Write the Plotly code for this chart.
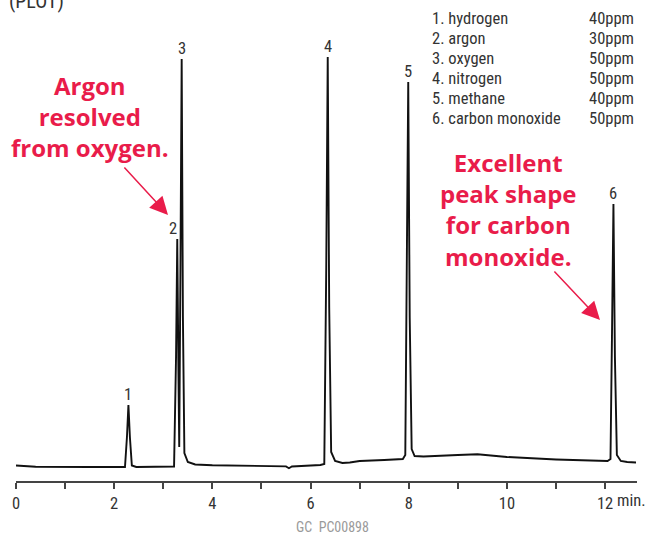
import plotly.graph_objects as go

# ---------------- data ----------------
signal_time = [0.00, 0.40, 1.50, 2.22, 2.26, 2.29, 2.32, 2.36, 2.45,
               3.22, 3.26, 3.285, 3.31, 3.325, 3.35, 3.375, 3.40, 3.43, 3.50, 3.65,
               4.00, 5.00, 5.50, 5.56, 5.62, 6.20, 6.28, 6.32, 6.35, 6.38, 6.42, 6.50,
               6.65, 6.80, 7.00, 7.50, 7.88, 7.93, 7.96, 7.99, 8.02, 8.06, 8.12,
               8.30, 9.00, 9.40, 10.00, 11.00, 12.05, 12.11, 12.14, 12.17, 12.20,
               12.24, 12.32, 12.45, 12.63]
signal_value = [1.5, 0.3, 0.0, 0.0, 30, 62, 30, 1.5, 0.0,
                0.5, 110, 228, 90, 20, 200, 408, 150, 14, 5, 2.5,
                1.8, 0.8, 0.6, -1.2, 0.5, 2.0, 3.0, 200, 410, 160, 15, 6,
                4.0, 4.5, 6.0, 7.0, 8.0, 12, 190, 385, 150, 18, 11,
                10.5, 12.0, 12.7, 10.0, 7.5, 6.0, 8.0, 130, 263, 110,
                12, 6.0, 5.0, 4.5]

peak_number = ["1", "2", "3", "4", "5", "6"]
peak_time = [2.29, 3.285, 3.375, 6.35, 7.99, 12.17]
peak_height = [62, 228, 408, 410, 385, 263]

compounds = ["1. hydrogen", "2. argon", "3. oxygen", "4. nitrogen",
             "5. methane", "6. carbon monoxide"]
concentrations = ["40ppm", "30ppm", "50ppm", "50ppm", "40ppm", "50ppm"]

tick_values = [0, 2, 4, 6, 8, 10, 12]
tick_labels = ["0", "2", "4", "6", "8", "10", "12"]

# ---------------- layout helpers ----------------
W, H = 650, 534
L, R, T, B = 16, 13, 40, 53
PW, PH = W - L - R, H - T - B


def paper(xp, yp):
    return (xp - L) / PW, (H - B - yp) / PH


NARROW = "Liberation Sans Narrow, Roboto Condensed, DejaVu Sans Condensed, Arial Narrow, sans-serif"
BOLD = "Open Sans, Lato, sans-serif"
RED = "#E91C4A"
DARK = "#333333"

fig = go.Figure()
fig.add_trace(go.Scatter(x=signal_time, y=signal_value, mode="lines",
                         line=dict(color="#111111", width=1.9),
                         hoverinfo="skip", showlegend=False))

ann = []
# peak numbers
for lab, t, h in zip(peak_number, peak_time, peak_height):
    ann.append(dict(x=t, y=h, xref="x", yref="y", text=lab, showarrow=False,
                    yanchor="middle", yshift=11, xshift=(-4 if lab == "2" else 0),
                    font=dict(family=NARROW, size=16.5, color=DARK)))

# compound table
for i, (c, v) in enumerate(zip(compounds, concentrations)):
    yp = 18 + 20.1 * i
    x0, y0 = paper(430, yp)
    x1, _ = paper(636, yp)
    ann.append(dict(x=x0, y=y0, xref="paper", yref="paper", text=c, showarrow=False,
                    xanchor="left", yanchor="middle",
                    font=dict(family=NARROW, size=16.5, color=DARK)))
    ann.append(dict(x=x1, y=y0, xref="paper", yref="paper", text=v, showarrow=False,
                    xanchor="right", yanchor="middle",
                    font=dict(family=NARROW, size=16.5, color=DARK)))

# (PLOT) cut at top
x0, y0 = paper(36, 1)
ann.append(dict(x=x0, y=y0, xref="paper", yref="paper", text="(PLOT)", showarrow=False,
                xanchor="center", yanchor="middle",
                font=dict(family=NARROW, size=20, color=DARK)))

# red callouts
x0, y0 = paper(90, 116)
ann.append(dict(x=x0, y=y0, xref="paper", yref="paper",
                text="<b>Argon<br>resolved<br>from oxygen.</b>", showarrow=False,
                xanchor="center", yanchor="middle", align="center",
                font=dict(family=BOLD, size=24, color=RED)))
x0, y0 = paper(508, 210)
ann.append(dict(x=x0, y=y0, xref="paper", yref="paper",
                text="<b>Excellent<br>peak shape<br>for carbon<br>monoxide.</b>", showarrow=False,
                xanchor="center", yanchor="middle", align="center",
                font=dict(family=BOLD, size=24, color=RED)))

# arrows
for (tx, ty), (hx, hy) in [((123, 166), (168, 215)), ((553, 270), (600, 320))]:
    xh, yh = paper(hx, hy)
    ann.append(dict(x=xh, y=yh, xref="paper", yref="paper", text="",
                    showarrow=True, ax=tx - hx, ay=ty - hy, axref="pixel", ayref="pixel",
                    arrowhead=2, arrowsize=2.4, arrowwidth=1.5, arrowcolor=RED,
                    standoff=0))

# 'min.' unit and figure code
x0, y0 = paper(631, 500)
ann.append(dict(x=x0, y=y0, xref="paper", yref="paper", text="min.", showarrow=False,
                xanchor="center", yanchor="middle",
                font=dict(family=NARROW, size=16.5, color=DARK)))
x0, y0 = paper(332, 527)
ann.append(dict(x=x0, y=y0, xref="paper", yref="paper", text="GC  PC00898", showarrow=False,
                xanchor="center", yanchor="middle",
                font=dict(family=NARROW, size=14, color="#9a9a9a")))

fig.update_layout(
    width=W, height=H, margin=dict(l=L, r=R, t=T, b=B),
    paper_bgcolor="white", plot_bgcolor="white",
    annotations=ann, showlegend=False,
    xaxis=dict(range=[0, 12.65], showgrid=False, zeroline=False,
               showline=True, linecolor="#444444", linewidth=1.5,
               tickmode="array", tickvals=tick_values, ticktext=tick_labels,
               ticks="outside", ticklen=6, tickwidth=1.5, tickcolor="#444444",
               minor=dict(dtick=1, tick0=0, ticks="outside", ticklen=6,
                          tickwidth=1.5, tickcolor="#444444"),
               tickfont=dict(family=NARROW, size=16.5, color=DARK)),
    yaxis=dict(range=[-14, 427], visible=False),
)

fig.write_html("out.html", config={"displayModeBar": False},
               post_script="document.body.style.margin='0';document.body.style.overflow='hidden';")
